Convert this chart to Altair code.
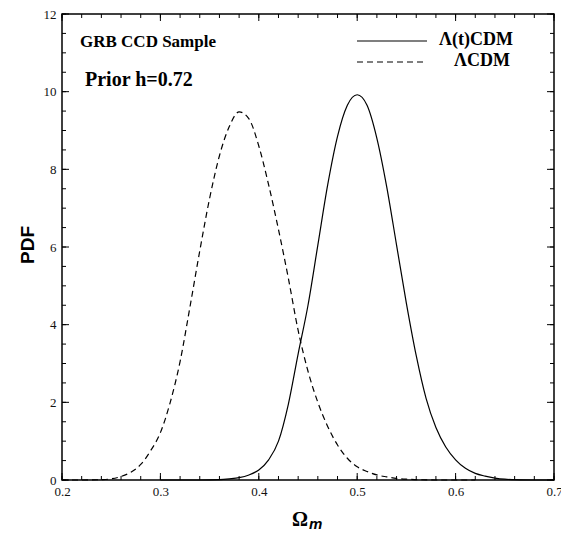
import altair as alt
import pandas as pd

# Posterior PDF of Omega_m for the two cosmological models
omega_lt = [0.30, 0.32, 0.34, 0.36, 0.37, 0.38, 0.39, 0.40, 0.41, 0.42, 0.43, 0.44,
            0.45, 0.46, 0.47, 0.48, 0.49, 0.50, 0.51, 0.52, 0.53, 0.54, 0.55, 0.56,
            0.57, 0.58, 0.59, 0.60, 0.61, 0.62, 0.63, 0.64, 0.65, 0.66, 0.68, 0.70]
pdf_lt = [0.0, 0.0, 0.0, 0.01, 0.03, 0.06, 0.13, 0.26, 0.52, 1.00, 1.95, 3.25,
          4.50, 6.05, 7.60, 8.85, 9.65, 9.92, 9.65, 8.80, 7.55, 6.05, 4.55, 3.20,
          2.10, 1.35, 0.85, 0.52, 0.30, 0.17, 0.10, 0.05, 0.02, 0.01, 0.0, 0.0]

omega_l = [0.20, 0.22, 0.24, 0.25, 0.26, 0.27, 0.28, 0.29, 0.30, 0.31, 0.32, 0.33,
           0.34, 0.35, 0.36, 0.37, 0.38, 0.39, 0.40, 0.41, 0.42, 0.43, 0.44, 0.45,
           0.46, 0.47, 0.48, 0.49, 0.50, 0.51, 0.52, 0.53, 0.54, 0.55, 0.56, 0.58, 0.62]
pdf_l = [0.0, 0.0, 0.01, 0.03, 0.09, 0.20, 0.40, 0.75, 1.22, 2.00, 3.05, 4.45,
         5.90, 7.25, 8.35, 9.10, 9.48, 9.30, 8.60, 7.60, 6.45, 5.20, 3.85, 2.80,
         2.00, 1.38, 0.90, 0.56, 0.34, 0.22, 0.13, 0.08, 0.04, 0.02, 0.01, 0.0, 0.0]

# Axis ticks
x_major = [0.2, 0.3, 0.4, 0.5, 0.6, 0.7]
x_minor = [round(0.2 + 0.02 * i, 2) for i in range(26)]
y_major = [0, 2, 4, 6, 8, 10, 12]
y_minor = [0.5 * i for i in range(25)]

W, H = 492, 466
SERIF = "Liberation Serif"

xs = alt.Scale(domain=[0.2, 0.7], nice=False, zero=False)
ys = alt.Scale(domain=[0, 12], nice=False, zero=False)

lt_df = pd.DataFrame({"omega": omega_lt, "pdf": pdf_lt})
l_df = pd.DataFrame({"omega": omega_l, "pdf": pdf_l})

x_axis = alt.Axis(values=x_major, format=".1f", ticks=False, domain=False, grid=False,
                  labelFont=SERIF, labelFontSize=13, labelColor="#111",
                  labelPadding=5, labelFlush=False, labelOverlap=False, title=None)
y_axis = alt.Axis(values=y_major, format="d", ticks=False, domain=False, grid=False,
                  labelFont=SERIF, labelFontSize=13, labelColor="#111",
                  labelPadding=6, labelOverlap=False, title=None)

solid = alt.Chart(lt_df).mark_line(color="black", strokeWidth=1.2, interpolate="monotone").encode(
    x=alt.X("omega:Q", scale=xs, axis=x_axis),
    y=alt.Y("pdf:Q", scale=ys, axis=y_axis),
)
dashed = alt.Chart(l_df).mark_line(color="black", strokeWidth=1.2, strokeDash=[6, 4],
                                   interpolate="monotone").encode(
    x=alt.X("omega:Q", scale=xs),
    y=alt.Y("pdf:Q", scale=ys),
)

# Inward-pointing ticks on all four sides of the frame
def xticks(vals, length):
    d = pd.DataFrame({"t": vals})
    bottom = alt.Chart(d).mark_rule(color="black", strokeWidth=1).encode(
        x=alt.X("t:Q", scale=xs), y=alt.value(H), y2=alt.value(H - length))
    top = alt.Chart(d).mark_rule(color="black", strokeWidth=1).encode(
        x=alt.X("t:Q", scale=xs), y=alt.value(0), y2=alt.value(length))
    return [bottom, top]


def yticks(vals, length):
    d = pd.DataFrame({"t": vals})
    left = alt.Chart(d).mark_rule(color="black", strokeWidth=1).encode(
        y=alt.Y("t:Q", scale=ys), x=alt.value(0), x2=alt.value(length))
    right = alt.Chart(d).mark_rule(color="black", strokeWidth=1).encode(
        y=alt.Y("t:Q", scale=ys), x=alt.value(W), x2=alt.value(W - length))
    return [left, right]


ticks = xticks(x_minor, 4) + xticks(x_major, 7) + yticks(y_minor, 4) + yticks(y_major, 7)

# Legend keys
key_solid = alt.Chart(pd.DataFrame({"k": [0]})).mark_rule(color="black", strokeWidth=1.2).encode(
    x=alt.value(295), x2=alt.value(365), y=alt.value(27))
key_dashed = alt.Chart(pd.DataFrame({"k": [0]})).mark_rule(
    color="black", strokeWidth=1.2, strokeDash=[6, 4]).encode(
    x=alt.value(295), x2=alt.value(365), y=alt.value(48))


def label(text, x, y, size, font=SERIF, weight="bold", style="normal", align="left",
          baseline="alphabetic", angle=0):
    return alt.Chart(pd.DataFrame({"s": [text]})).mark_text(
        font=font, fontSize=size, fontWeight=weight, fontStyle=style, align=align,
        baseline=baseline, angle=angle, color="black").encode(
        text="s:N", x=alt.value(x), y=alt.value(y))


texts = [
    label("GRB CCD Sample", 18, 33, 17),
    label("Prior h=0.72", 23, 72, 20),
    label("Λ(t)CDM", 377, 31, 18),
    label("ΛCDM", 392, 52, 18),
    label("Ω", 238, 512, 20, align="center"),
    label("m", 247, 515, 15, font="Liberation Sans", style="italic"),
    label("PDF", -34, 231, 19, font="Liberation Sans", align="center",
          baseline="middle", angle=270),
]

chart = alt.layer(solid, dashed, *ticks, key_solid, key_dashed, *texts).properties(
    width=W, height=H,
    autosize=alt.AutoSizeParams(type="none"),
    padding={"left": 62, "top": 14, "right": 7, "bottom": 55},
    background="white",
).configure_view(stroke="black", strokeWidth=1.5)

chart.save("out.html", embed_options={"renderer": "svg", "actions": False})
